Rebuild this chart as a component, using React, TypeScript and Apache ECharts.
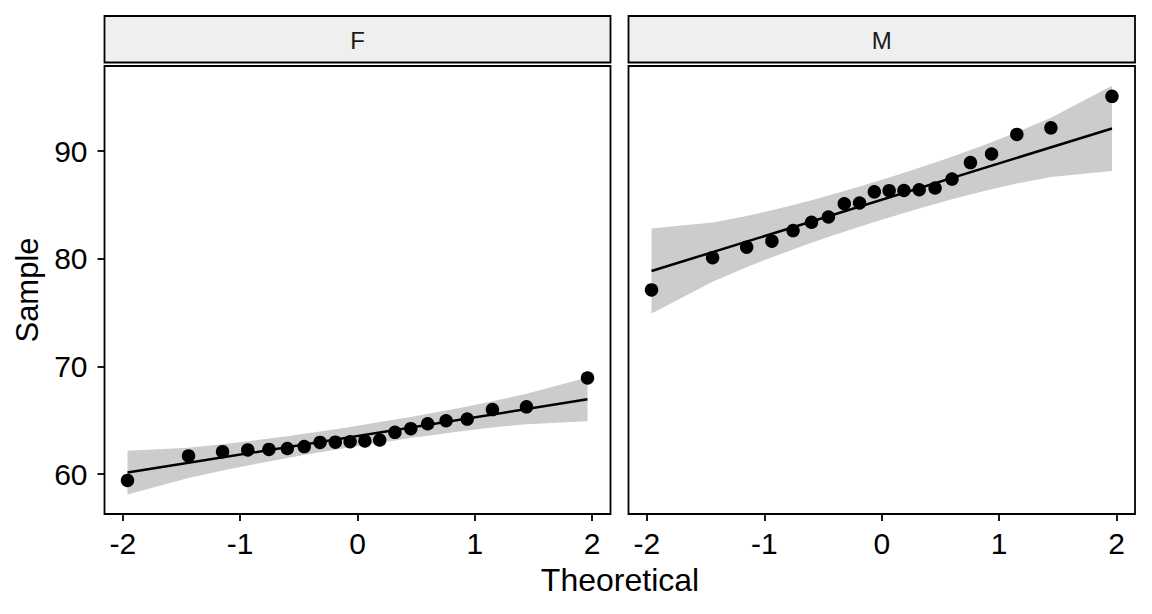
import React, { useEffect, useRef } from "react";
import * as echarts from "echarts";

// Theoretical normal quantiles (n = 20), shared by both panels
const theoretical = [-1.96, -1.44, -1.15, -0.935, -0.755, -0.598, -0.454, -0.319, -0.189, -0.063,
  0.063, 0.189, 0.319, 0.454, 0.598, 0.755, 0.935, 1.15, 1.44, 1.96];

// Panel F
const sampleF = [59.42, 61.69, 62.09, 62.25, 62.3, 62.38, 62.56, 62.95, 62.97, 63.01,
  63.08, 63.17, 63.88, 64.22, 64.68, 64.96, 65.11, 66.0, 66.25, 68.93];
const lineF = [60.15, 66.95];
const lowerF = [58.12, 59.64, 60.34, 60.81, 61.18, 61.49, 61.77, 62.03, 62.26, 62.49,
  62.71, 62.92, 63.13, 63.37, 63.57, 63.8, 64.05, 64.33, 64.64, 64.92];
const upperF = [62.18, 62.46, 62.78, 63.05, 63.3, 63.53, 63.75, 63.97, 64.18, 64.39,
  64.61, 64.84, 65.07, 65.31, 65.61, 65.92, 66.29, 66.77, 67.46, 68.98];

// Panel M
const sampleM = [77.11, 80.1, 81.08, 81.63, 82.62, 83.39, 83.88, 85.11, 85.18, 86.22,
  86.32, 86.34, 86.41, 86.57, 87.4, 88.93, 89.73, 91.55, 92.16, 95.08];
const lineM = [78.86, 92.1];
const lowerM = [74.91, 77.87, 79.22, 80.14, 80.87, 81.48, 82.02, 82.51, 82.97, 83.41,
  83.83, 84.25, 84.67, 85.08, 85.52, 85.97, 86.46, 86.98, 87.59, 88.15];
const upperM = [82.82, 83.37, 83.98, 84.5, 84.99, 85.44, 85.88, 86.29, 86.71, 87.13,
  87.55, 87.99, 88.45, 88.94, 89.48, 90.09, 90.82, 91.74, 93.09, 96.06];

const panels = ["F", "M"];
const xTicks = [-2, -1, 0, 1, 2];
const yTicks = [60, 70, 80, 90];

const FONT = "'Liberation Sans', Arial, Helvetica, sans-serif";

export default function App() {
  const ref = useRef<HTMLDivElement>(null);

  useEffect(() => {
    if (!ref.current) return;
    const chart = echarts.init(ref.current, null, { renderer: "svg" });

    const grids = [
      { left: 104.5, top: 66, width: 506, height: 448 },
      { left: 628.5, top: 66, width: 506.5, height: 448 },
    ];
    const data = [
      { sample: sampleF, line: lineF, lower: lowerF, upper: upperF },
      { sample: sampleM, line: lineM, lower: lowerM, upper: upperM },
    ];

    const series: any[] = [];
    data.forEach((d, i) => {
      series.push({
        type: "custom",
        xAxisIndex: i,
        yAxisIndex: i,
        silent: true,
        z: 1,
        data: [[theoretical[0], d.lower[0]]],
        renderItem: (_params: any, api: any) => {
          const pts: number[][] = [];
          for (let k = 0; k < theoretical.length; k++) pts.push(api.coord([theoretical[k], d.upper[k]]));
          for (let k = theoretical.length - 1; k >= 0; k--) pts.push(api.coord([theoretical[k], d.lower[k]]));
          return {
            type: "polygon",
            shape: { points: pts },
            style: { fill: "#CCCCCC", stroke: null },
          };
        },
      });
      series.push({
        type: "line",
        xAxisIndex: i,
        yAxisIndex: i,
        z: 2,
        showSymbol: false,
        silent: true,
        data: [[theoretical[0], d.line[0]], [theoretical[theoretical.length - 1], d.line[1]]],
        lineStyle: { color: "#000", width: 2.5 },
      });
      series.push({
        type: "scatter",
        xAxisIndex: i,
        yAxisIndex: i,
        z: 3,
        symbolSize: 13.5,
        itemStyle: { color: "#000", opacity: 1 },
        data: theoretical.map((x, k) => [x, d.sample[k]]),
      });
    });

    const xAxes = grids.map((_, i) => ({
      type: "value",
      gridIndex: i,
      min: -2.156,
      max: 2.156,
      splitLine: { show: false },
      axisLine: { show: false, onZero: false },
      axisTick: { show: true, length: 7, customValues: xTicks, lineStyle: { color: "#000", width: 1.8 } },
      axisLabel: {
        show: true,
        customValues: xTicks,
        margin: 14,
        color: "#000",
        fontSize: 30,
        fontFamily: FONT,
      },
    }));
    const yAxes = grids.map((_, i) => ({
      type: "value",
      gridIndex: i,
      min: 56.3,
      max: 97.9,
      splitLine: { show: false },
      axisLine: { show: false, onZero: false },
      axisTick: { show: i === 0, length: 7, customValues: yTicks, lineStyle: { color: "#000", width: 1.8 } },
      axisLabel: {
        show: i === 0,
        customValues: yTicks,
        margin: 17,
        color: "#000",
        fontSize: 30,
        fontFamily: FONT,
      },
    }));

    const graphics: any[] = [];
    grids.forEach((g, i) => {
      graphics.push({
        type: "rect",
        shape: { x: g.left, y: 16, width: g.width, height: 46.5 },
        style: { fill: "#EFEFEF", stroke: "#000", lineWidth: 1.8 },
        z: 10,
      });
      graphics.push({
        type: "text",
        x: g.left + g.width / 2,
        y: 40,
        style: {
          text: panels[i],
          fill: "#1a1a1a",
          font: `24px ${FONT}`,
          textAlign: "center",
          textVerticalAlign: "middle",
        },
        z: 11,
      });
    });
    graphics.push({
      type: "text",
      x: 620,
      y: 580,
      style: {
        text: "Theoretical",
        fill: "#000",
        font: `32px ${FONT}`,
        textAlign: "center",
        textVerticalAlign: "middle",
      },
    });
    graphics.push({
      type: "text",
      x: 27,
      y: 290,
      rotation: Math.PI / 2,
      style: {
        text: "Sample",
        fill: "#000",
        font: `31px ${FONT}`,
        textAlign: "center",
        textVerticalAlign: "middle",
      },
    });

    chart.setOption({
      animation: false,
      backgroundColor: "#fff",
      grid: grids.map((g) => ({
        ...g,
        show: true,
        borderColor: "#000",
        borderWidth: 1.8,
        backgroundColor: "#fff",
      })),
      xAxis: xAxes,
      yAxis: yAxes,
      series,
      graphic: graphics,
    });

    return () => chart.dispose();
  }, []);

  return (
    <div
      ref={ref}
      style={{ position: "absolute", left: 0, top: 0, width: 1152, height: 614 }}
    />
  );
}
